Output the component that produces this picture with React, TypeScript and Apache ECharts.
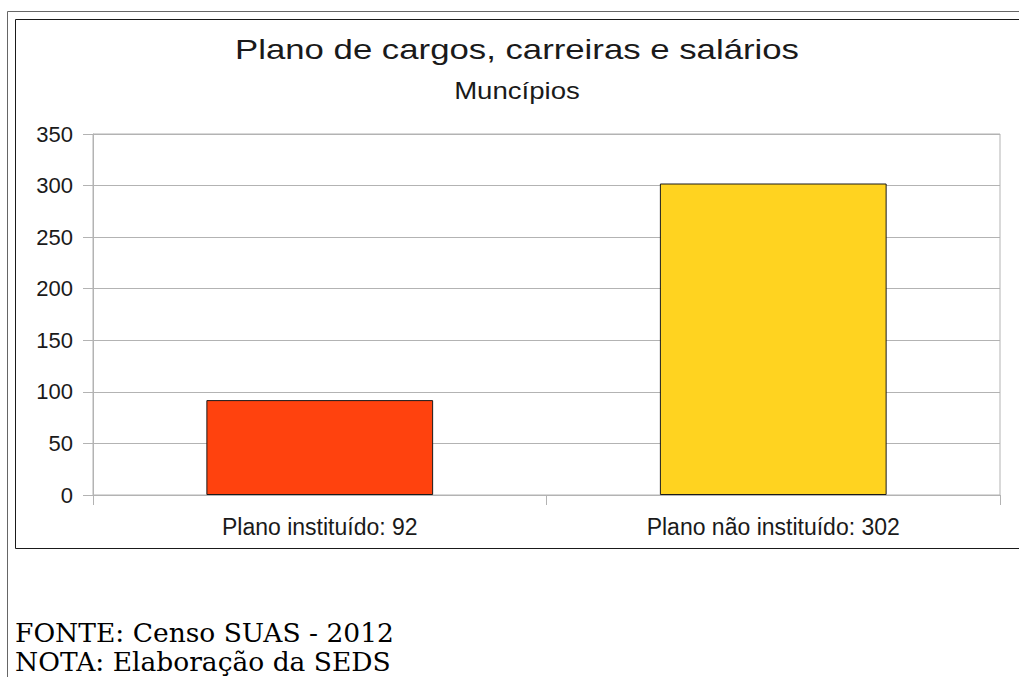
import React, { useEffect, useRef } from "react";
import * as echarts from "echarts";

const categories = ["Plano instituído: 92", "Plano não instituído: 302"];
const values = [92, 302];
const barColors = ["#ff420e", "#ffd320"];
const titleText = "Plano de cargos, carreiras e salários";
const subtitleText = "Muncípios";
const footerLines = ["FONTE: Censo SUAS - 2012", "NOTA: Elaboração da SEDS"];

export default function App() {
  const ref = useRef<HTMLDivElement>(null);
  useEffect(() => {
    if (!ref.current) return;
    const chart = echarts.init(ref.current, null, { renderer: "svg" });
    const sans = "'Liberation Sans', Arial, sans-serif";
    chart.setOption({
      animation: false,
      backgroundColor: "#ffffff",
      grid: {
        left: 93,
        right: 19,
        top: 134,
        bottom: 182,
        show: true,
        borderColor: "#b3b3b3",
        borderWidth: 1,
        backgroundColor: "transparent",
      },
      xAxis: {
        type: "category",
        data: categories,
        axisLine: { show: true, lineStyle: { color: "#b3b3b3", width: 1 } },
        axisTick: { show: true, length: 10, lineStyle: { color: "#b3b3b3" } },
        axisLabel: {
          margin: 20,
          fontFamily: sans,
          fontSize: 23,
          color: "#1a1a1a",
        },
        splitLine: { show: false },
      },
      yAxis: {
        type: "value",
        min: 0,
        max: 350,
        interval: 50,
        axisLine: { show: true, lineStyle: { color: "#b3b3b3", width: 1 } },
        axisTick: { show: true, length: 10, lineStyle: { color: "#b3b3b3" } },
        axisLabel: {
          margin: 20,
          fontFamily: sans,
          fontSize: 22,
          color: "#1a1a1a",
        },
        splitLine: { show: true, lineStyle: { color: "#b3b3b3", width: 1 } },
      },
      series: [
        {
          type: "bar",
          barWidth: "50%",
          data: values.map((v, i) => ({
            value: v,
            itemStyle: { color: barColors[i], borderColor: "#1a1a1a", borderWidth: 1 },
          })),
        },
      ],
      graphic: [
        {
          type: "polyline",
          shape: { points: [[7.5, 677], [7.5, 11.5], [1019, 11.5]] },
          style: { stroke: "#666666", lineWidth: 1, fill: null },
          silent: true,
        },
        {
          type: "rect",
          shape: { x: 15.5, y: 19.5, width: 1010, height: 529 },
          style: { stroke: "#1a1a1a", lineWidth: 1, fill: null },
          silent: true,
        },
        {
          type: "text",
          x: 517,
          y: 49,
          scaleX: 1.22,
          style: {
            text: titleText,
            fontFamily: sans,
            fontSize: 28.5,
            fill: "#1a1a1a",
            align: "center",
            verticalAlign: "middle",
          },
        },
        {
          type: "text",
          x: 517,
          y: 91,
          scaleX: 1.2,
          style: {
            text: subtitleText,
            fontFamily: sans,
            fontSize: 23,
            fill: "#1a1a1a",
            align: "center",
            verticalAlign: "middle",
          },
        },
        {
          type: "text",
          x: 15,
          y: 632,
          style: {
            text: footerLines[0],
            fontFamily: "'DejaVu Serif', serif",
            fontSize: 26.5,
            fill: "#000000",
            align: "left",
            verticalAlign: "middle",
          },
        },
        {
          type: "text",
          x: 15,
          y: 661,
          style: {
            text: footerLines[1],
            fontFamily: "'DejaVu Serif', serif",
            fontSize: 26.5,
            fill: "#000000",
            align: "left",
            verticalAlign: "middle",
          },
        },
      ],
    });
    return () => chart.dispose();
  }, []);
  return (
    <div
      ref={ref}
      style={{ position: "absolute", left: 0, top: 0, width: 1019, height: 677 }}
    />
  );
}
